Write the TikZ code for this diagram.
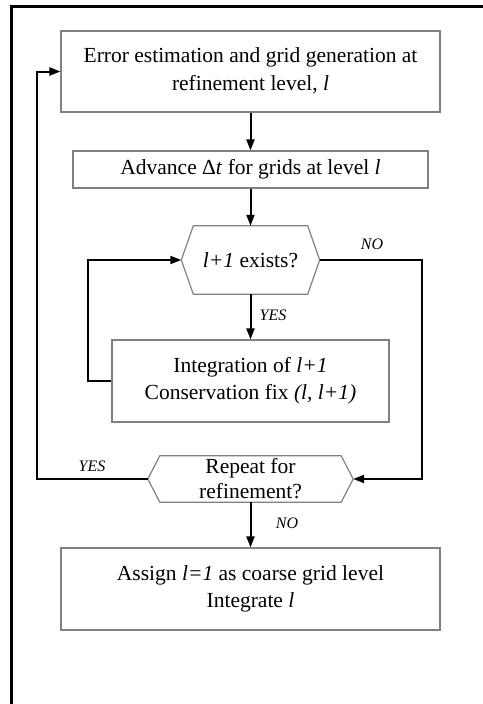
\documentclass[tikz,border=0pt]{standalone}
\usepackage{fontspec}
\setmainfont{Liberation Serif}
\usetikzlibrary{arrows.meta}
\begin{document}
\begin{tikzpicture}[x=1pt,y=-1pt,
  every node/.style={inner sep=0pt, align=center, font=\fontsize{21.5}{28}\selectfont},
  boxnode/.style={draw=black!50, line width=1.2pt, minimum width=#1},
  hexnode/.style={minimum width=#1},
  hexline/.style={draw=black!50, line width=1.2pt},
  conn/.style={draw=black, line width=2pt},
  arr/.style={conn, -{Triangle[length=11pt,width=8pt]}},
  lbl/.style={font=\fontsize{16}{18}\selectfont\itshape}
]
\useasboundingbox (0,0) rectangle (482,704);
% outer frame
\draw[line width=3pt, line cap=rect] (11.5,710) -- (11.5,6.5) -- (490,6.5);

\node[boxnode=379pt, minimum height=81pt, text depth=4pt] (b1) at (250.5,71.5)
  {Error estimation and grid generation at\\refinement level, \textit{l}};
\node[boxnode=355pt, minimum height=37pt] (b2) at (250.5,169.5)
  {Advance Δ\textit{t} for grids at level \textit{l}};
\node[hexnode=138pt, minimum height=68pt] (h1) at (250.5,260)
  {\textit{l+1} exists?};
\node[boxnode=277pt, minimum height=82pt, font=\fontsize{21.5}{27}\selectfont] (b3) at (250.5,381)
  {Integration of \textit{l+1}\\Conservation fix \textit{(l, l+1)}};
\node[hexnode=205pt, minimum height=46pt, font=\fontsize{21.5}{25}\selectfont] (h2) at (250.5,479)
  {Repeat for\\refinement?};
\node[boxnode=379pt, minimum height=82pt, font=\fontsize{21.5}{27}\selectfont] (b4) at (250.5,589)
  {Assign \textit{l=1} as coarse grid level\\Integrate \textit{l}};

% hexagon outlines
\foreach \h in {h1,h2}{
  \draw[hexline] (\h.west) -- ([xshift=12pt]\h.north west) -- ([xshift=-12pt]\h.north east)
    -- (\h.east) -- ([xshift=-12pt]\h.south east) -- ([xshift=12pt]\h.south west) -- cycle;
}

\coordinate (lp) at (88,381);
\coordinate (nr) at (422,260);
\coordinate (yl) at (37,479);

\draw[arr] (b1) -- (b2);
\draw[arr] (b2) -- (h1);
\draw[arr] (h1) -- (b3);
\draw[arr] (b3.west) -- (lp) |- (h1.west);
\draw[arr] (h1.east) -- (nr) |- (h2.east);
\draw[arr] (h2.west) -- (yl) |- (b1.west);
\draw[arr] (h2) -- (b4);

\node[lbl] (yes1) at (273,315) {YES};
\node[lbl] (no1) at (372,244) {NO};
\node[lbl] (yes2) at (92,466) {YES};
\node[lbl] (no2) at (287,523) {NO};
\end{tikzpicture}
\end{document}
